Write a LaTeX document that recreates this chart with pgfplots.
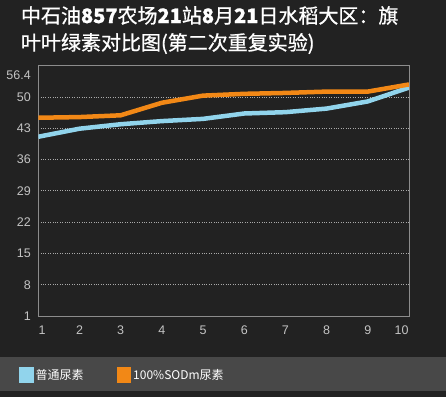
\documentclass[border=0pt]{standalone}
\usepackage{fontspec}
\setmainfont{Liberation Sans}
\newfontfamily\cjk{Noto Sans CJK SC}
\newfontfamily\cjkt[FakeBold=0.9]{Noto Sans CJK SC}
\usepackage{pgfplots}
\pgfplotsset{compat=1.18}
\definecolor{bg}{RGB}{34,34,34}
\definecolor{band}{RGB}{72,72,72}
\definecolor{lblue}{RGB}{145,212,236}
\definecolor{orng}{RGB}{242,136,22}
\definecolor{frame}{RGB}{140,140,140}
\definecolor{ticklab}{RGB}{195,195,195}
\definecolor{gridc}{RGB}{170,170,170}
\begin{document}
\begin{tikzpicture}
\useasboundingbox (-38.3pt,-81pt) rectangle (407.7pt,316pt);
\fill[bg] (-38.3pt,-81pt) rectangle (407.7pt,316pt);
\fill[band] (-38.3pt,-75pt) rectangle (407.7pt,-41pt);
\node[anchor=north west, align=left, text=white, inner sep=0pt,
      font=\cjkt\fontsize{20}{27}\selectfont] at (-17.5pt,310pt)
  {中石油\textbf{857}农场\textbf{21}站\textbf{8}月\textbf{21}日水稻大区：旗\\叶叶绿素对比图(第二次重复实验)};
\begin{axis}[
  at={(0pt,0pt)}, anchor=south west,
  scale only axis, width=370.7pt, height=251pt,
  xmin=1, xmax=10, ymin=1, ymax=57.15,
  axis line style={frame, line width=0.8pt},
  axis background/.style={fill=bg},
  major tick length=0pt,
  xtick={1.09,2,3,4,5,6,7,8,9,9.82},
  xticklabels={1,2,3,4,5,6,7,8,9,10},
  ytick={8,15,22,29,36,43,50},
  extra y ticks={1,54.9},
  extra y tick labels={1,56.4},
  extra y tick style={grid=none},
  ymajorgrids,
  grid style={gridc, dotted, line width=0.7pt},
  tick label style={ticklab, font=\fontsize{12.5}{14}\selectfont},
  /pgf/number format/assume math mode=true,
  xticklabel style={yshift=-6pt},
  yticklabel style={xshift=-4pt},
  legend style={at={(axis description cs:-0.052,-0.235)}, anchor=west,
    draw=none, fill=none, text=white, inner sep=0pt,
    font=\cjk\fontsize{12}{14}\selectfont,
    /tikz/every even column/.append style={column sep=31pt}},
  legend columns=2,
  legend cell align=left,
  legend image code/.code={\fill[#1] (0pt,-5.3pt) rectangle (10pt,5.3pt);},
]
\addplot[lblue, line width=4.5pt] coordinates {
(1,41.1) (2,42.9) (3,43.9) (4,44.6) (5,45.1) (6,46.3) (7,46.6) (8,47.4) (9,49.0) (10,52.1)};
\addlegendentry{普通尿素}
\addplot[orng, line width=4.5pt] coordinates {
(1,45.35) (2,45.5) (3,45.9) (4,48.7) (5,50.3) (6,50.7) (7,50.9) (8,51.2) (9,51.2) (10,52.8)};
\addlegendentry{100\%SODm尿素}
\end{axis}
\end{tikzpicture}
\end{document}
